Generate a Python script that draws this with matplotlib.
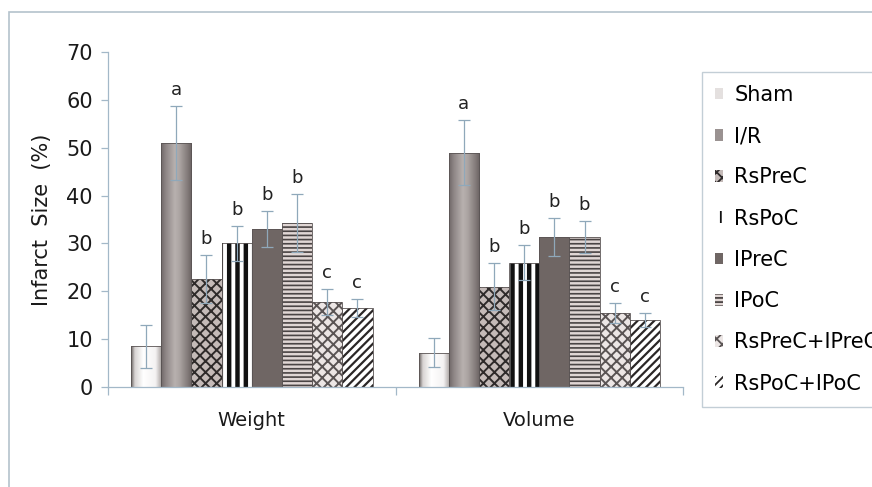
import matplotlib
matplotlib.use('Agg')
import matplotlib.pyplot as plt
import numpy as np
from matplotlib.patches import Rectangle

# values
groups = ['Weight', 'Volume']
treatments = ['Sham', 'I/R', 'RsPreC', 'RsPoC', 'IPreC', 'IPoC',
              'RsPreC+IPreC', 'RsPoC+IPoC']
weight_mean = [8.5, 51.0, 22.5, 30.0, 33.0, 34.3, 17.8, 16.5]
weight_err = [4.5, 7.8, 5.0, 3.7, 3.8, 6.0, 2.7, 1.8]
volume_mean = [7.2, 49.0, 21.0, 26.0, 31.3, 31.3, 15.4, 14.0]
volume_err = [3.0, 6.8, 5.0, 3.7, 4.0, 3.3, 2.1, 1.5]
letters = ['', 'a', 'b', 'b', 'b', 'b', 'c', 'c']
yticks = [0, 10, 20, 30, 40, 50, 60, 70]

# fill styles: (face, hatch, hatch colour, hatch lw, gradient)
styles = [
    ('#e4e0df', None, '#555', 1.0, 'sham'),
    ('#9a9291', None, '#555', 1.0, 'ir'),
    ('#c4bab8', 'xxx', '#2e2a2a', 1.4, None),
    ('#ffffff', '||', '#111111', 3.2, None),
    ('#6f6664', None, '#6f6664', 1.0, None),
    ('#e0d6d4', '----', '#4a4444', 1.2, None),
    ('#ece6e5', 'xxx', '#5a5454', 1.4, None),
    ('#ffffff', '////', '#2a2626', 1.6, None),
]

grad_profiles = {
    'sham': ([0, 0.12, 0.4, 0.8, 1.0],
             ['#6b6563', '#d8d4d3', '#ffffff', '#f4f2f2', '#a8a2a0']),
    'ir': ([0, 0.15, 0.45, 0.6, 0.85, 1.0],
           ['#706868', '#8e8686', '#b8b1af', '#aca5a3', '#857d7c', '#6a6262']),
}

axis_col = '#a3b8c8'
err_col = '#8fa8ba'

plt.rcParams['font.family'] = 'DejaVu Sans'
plt.rcParams['hatch.linewidth'] = 1.3

fig = plt.figure(figsize=(8.72, 4.87), dpi=100)
ax = fig.add_axes([108 / 872, 1 - 387 / 487, (683 - 108) / 872, (387 - 52) / 487])

# outer frame of the figure (only top/left visible)
fig.patches.append(Rectangle((9 / 872, -0.2), 1.2, 1.2 - 12 / 487,
                             transform=fig.transFigure, fill=False,
                             edgecolor='#b4c2cc', linewidth=1.2))

x = np.arange(len(groups))
width = 0.105
n = len(treatments)


def hex2rgb(h):
    h = h.lstrip('#')
    return [int(h[i:i + 2], 16) / 255 for i in (0, 2, 4)]


for i, name in enumerate(treatments):
    face, hatch, hcol, hlw, grad = styles[i]
    means = [weight_mean[i], volume_mean[i]]
    errs = [weight_err[i], volume_err[i]]
    pos = x + (i - (n - 1) / 2) * width
    bars = ax.bar(pos, means, width, color=face, hatch=hatch,
                  edgecolor=hcol if hatch else face, linewidth=0,
                  label=name, zorder=2)
    for b in bars:
        if hatch and hasattr(b, 'set_hatch_linewidth'):
            b.set_hatch_linewidth(hlw)
        if grad:
            stops, cols = grad_profiles[grad]
            t = np.linspace(0, 1, 64)
            rgb = np.array([hex2rgb(c) for c in cols])
            img = np.stack([np.interp(t, stops, rgb[:, k]) for k in range(3)], axis=-1)
            img = img[np.newaxis, :, :]
            im = ax.imshow(img, extent=(b.get_x(), b.get_x() + b.get_width(),
                                        0, b.get_height()),
                           aspect='auto', zorder=2.1, interpolation='bilinear')
            im.set_clip_path(b)
    ax.bar(pos, means, width, fill=False, edgecolor='#5a5454',
           linewidth=0.6, zorder=2.5)
    ax.errorbar(pos, means, yerr=errs, fmt='none', ecolor=err_col,
                elinewidth=0.9, capsize=4.5, capthick=0.9, zorder=3)
    if letters[i]:
        for p, m, e in zip(pos, means, errs):
            ax.annotate(letters[i], (p, m + e), xytext=(0, 5),
                        textcoords='offset points', ha='center', va='bottom',
                        fontsize=13, color='#222222', zorder=4)

ax.set_xlim(-0.5, 1.5)
ax.set_ylim(0, 70)
ax.set_yticks(yticks)
ax.tick_params(axis='y', labelsize=15, length=5, color=axis_col, width=0.9,
               pad=6, labelcolor='#1a1a1a')
ax.set_xticks(x)
ax.set_xticklabels(groups)
ax.tick_params(axis='x', which='major', length=0, pad=17, labelsize=14,
               labelcolor='#1a1a1a')
ax.set_xticks([-0.5, 0.5, 1.5], minor=True)
ax.tick_params(axis='x', which='minor', length=6, color=axis_col, width=0.9)

for side in ['top', 'right']:
    ax.spines[side].set_visible(False)
for side in ['left', 'bottom']:
    ax.spines[side].set_color(axis_col)
    ax.spines[side].set_linewidth(0.9)

ax.set_ylabel('Infarct  Size  (%)', fontsize=15, color='#1a1a1a', labelpad=10)

# legend box runs off the right edge, as in the reference
handles, labels = ax.get_legend_handles_labels()
leg = fig.legend(handles, labels, loc='upper left',
                 bbox_to_anchor=(702 / 872, 1 - 72 / 487),
                 bbox_transform=fig.transFigure, fontsize=15,
                 frameon=True, fancybox=False, edgecolor='#b4c2cc',
                 handlelength=0.38, handleheight=0.5, handletextpad=0.55,
                 labelspacing=1.02, borderpad=0.62, borderaxespad=0)
leg.get_frame().set_linewidth(1.0)

fig.savefig('out.png', dpi=100)
